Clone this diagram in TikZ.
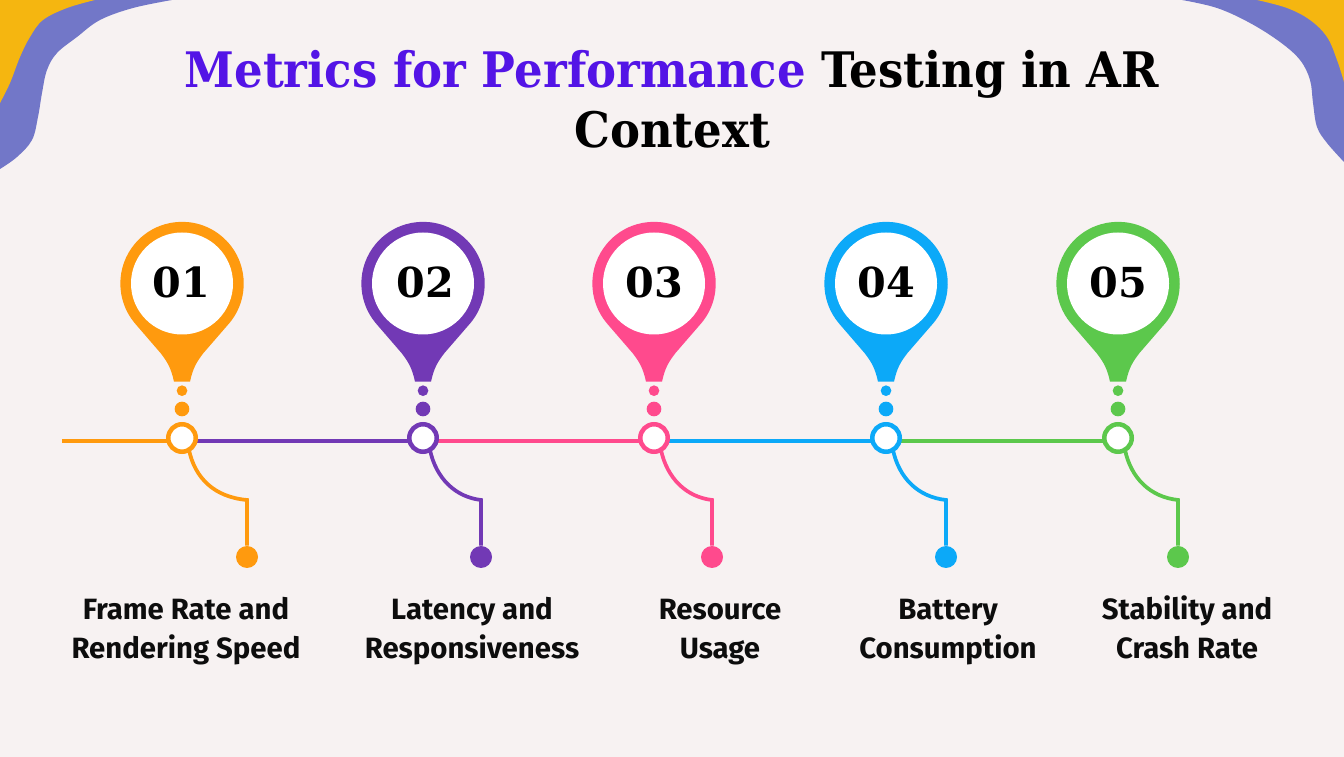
\documentclass[tikz,border=0pt]{standalone}
\usetikzlibrary{calc}
\usepackage{fontspec}
\setmainfont{DejaVu Serif}
\newfontfamily\titlefont[FakeStretch=0.92]{DejaVu Serif}
\newfontfamily\labelfont{Fira Sans}
\definecolor{bgc}{HTML}{F7F2F2}
\definecolor{blobp}{HTML}{7277C8}
\definecolor{bloby}{HTML}{F5B610}
\definecolor{titlep}{HTML}{5314E6}
\definecolor{cA}{HTML}{FF9A0E}
\definecolor{cB}{HTML}{7239B5}
\definecolor{cC}{HTML}{FF4A8D}
\definecolor{cD}{HTML}{0CA9F8}
\definecolor{cE}{HTML}{5CC84C}
\tikzset{
  x=.75pt,y=.75pt,
  pinface/.style={circle,fill=white,minimum size=76.5pt,inner sep=0pt,font=\bfseries\fontsize{31}{31}\selectfont,text=black},
  ringnode/.style={circle,draw=#1,fill=white,line width=3.4pt,minimum size=20.6pt,inner sep=0pt},
  dotnode/.style={circle,fill=#1,minimum size=16.5pt,inner sep=0pt},
  wire/.style={draw=#1,line width=3pt},
  thinwire/.style={draw=#1,line width=2.8pt},
  caption/.style={font=\labelfont\bfseries\fontsize{22}{29.8}\selectfont,align=center,text=black!95},
}
\begin{document}
\begin{tikzpicture}
\useasboundingbox (0,0) rectangle (1344,756);
\fill[bgc] (-2,-2) rectangle (1346,758);
% corner shapes
\fill[blobp] (0,756) -- (172,756) -- plot[smooth,tension=.6] coordinates {(172,756) (133,748) (100,736) (77,719) (57,703) (47,686) (42,663) (38,639) (32,616) (17,599) (0,587)} -- cycle;
\fill[bloby] (0,756) -- (95,756) -- plot[smooth,tension=.6] coordinates {(95,756) (67,748) (43,736) (30,719) (20,699) (10,673) (0,653)} -- cycle;
\fill[blobp] (1344,756) -- (1182,756) -- plot[smooth,tension=.6] coordinates {(1182,756) (1217,748) (1250,733) (1280,714) (1300,696) (1310,676) (1313,653) (1317,629) (1327,613) (1344,594)} -- cycle;
\fill[bloby] (1344,756) -- (1257,756) -- plot[smooth,tension=.6] coordinates {(1257,756) (1287,748) (1310,736) (1327,719) (1337,696) (1344,674)} -- cycle;
% title
\node[name=title,anchor=center,align=center,font=\titlefont\bfseries\fontsize{36.7}{45}\selectfont] at (672,657)
 {\textcolor{titlep}{Metrics for Performance} Testing in AR\\Context};
% start of the line
\coordinate (start) at (62,318);
\foreach \i/\px/\ex/\cc/\num in {1/182/247/cA/\kern-1pt 01,2/423/481/cB/\kern3pt 02,3/654/712/cC/03,4/886/946/cD/04,5/1118/1178/cE/05}{
  \begin{scope}[shift={(\px,472.5)}]
    \fill[\cc] (8,-98.2) .. controls (11,-84) and (15,-78) .. (21.5,-69.5) -- (47.3,-39.7)
      arc[start angle=-40,end angle=220,radius=61.7] -- (-21.5,-69.5) .. controls (-15,-78) and (-11,-84) .. (-8,-98.2) -- cycle;
  \end{scope}
  \node[pinface] (pin\i) at (\px,472.5) {\raisebox{1.7pt}{\num}};
  \node[dotnode=\cc,minimum size=8pt] (sd\i) at (\px,365.3) {};
  \node[dotnode=\cc,minimum size=11pt] (md\i) at (\px,347) {};
  \node[dotnode=\cc] (end\i) at (\ex,199) {};
  \coordinate (bend\i) at (\ex,256);
}
\foreach \i/\px in {1/182,2/423,3/654,4/886,5/1118}{
  \coordinate (r\i) at (\px,318);
}
\draw[wire=cA] ([yshift=-1.9pt]start) -- ([yshift=-1.9pt]r1);
\draw[wire=cB] ([yshift=-1.9pt]r1) -- ([yshift=-1.9pt]r2);
\draw[wire=cC] ([yshift=-1.9pt]r2) -- ([yshift=-1.9pt]r3);
\draw[wire=cD] ([yshift=-1.9pt]r3) -- ([yshift=-1.9pt]r4);
\draw[wire=cE] ([yshift=-1.9pt]r4) -- ([yshift=-1.9pt]r5);
\foreach \i/\cc in {1/cA,2/cB,3/cC,4/cD,5/cE}{
  \draw[thinwire=\cc] ($(r\i)+(7,-12)$) .. controls ($(r\i)+(13,-40)$) and ($(r\i)+(32,-59)$) .. (bend\i) -- (end\i);
  \node[ringnode=\cc] (ring\i) at (r\i) {};
}
% captions
\node[caption] (cap1) at (186,125) {\strut Frame Rate and\\\strut Rendering Speed};
\node[caption] (cap2) at (472,125) {\strut Latency and\\\strut Responsiveness};
\node[caption] (cap3) at (720,125) {\strut Resource\\\strut Usage};
\node[caption] (cap4) at (948,125) {\strut Battery\\\strut Consumption};
\node[caption] (cap5) at (1187,125) {\strut Stability and\\\strut Crash Rate};
\end{tikzpicture}
\end{document}
